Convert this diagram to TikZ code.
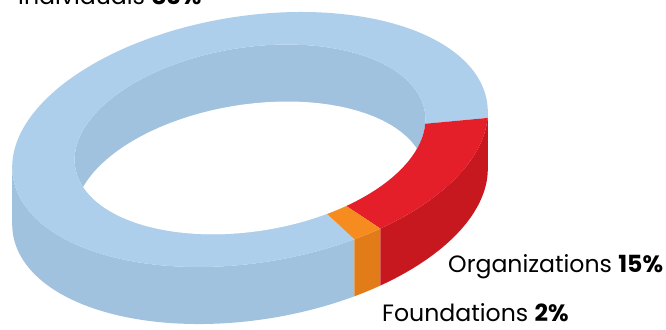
\documentclass[tikz,border=0pt]{standalone}
\usepackage{fontspec}
\setmainfont{Poppins}

\definecolor{blueTop}{RGB}{173,207,235}
\definecolor{blueSide}{RGB}{160,194,222}
\definecolor{redTop}{RGB}{228,31,42}
\definecolor{redSide}{RGB}{200,24,31}
\definecolor{orangeTop}{RGB}{246,139,31}
\definecolor{orangeSide}{RGB}{225,124,24}

\begin{document}
\begin{tikzpicture}[x=1pt, y=1pt,
    declare function={
        ox(\t)=250+240*cos(\t)*cos(9)-123.4*sin(\t)*sin(9);
        oy(\t)=189.5+240*cos(\t)*sin(9)+123.4*sin(\t)*cos(9);
        ix(\t)=250+177*cos(\t)*cos(9)-92*sin(\t)*sin(9);
        iy(\t)=189.5+177*cos(\t)*sin(9)+92*sin(\t)*cos(9);
    },
    lbl/.style={font=\fontsize{23.6}{26}\selectfont, text=black, inner sep=0pt, anchor=base west}]
        \clip (0,0) rectangle (666,329);
        % inner wall seen through the hole
        \fill[blueSide] plot[domain=0:360, samples=100] ({ix(\x)},{iy(\x)}) -- cycle;
        \begin{scope}
        \clip plot[domain=0:360, samples=100] ({ix(\x)},{iy(\x)}) -- cycle;
        \fill[white] plot[domain=0:360, samples=100] ({ix(\x)},{iy(\x)-57}) -- cycle;
        \end{scope}
        % outer walls
        \fill[blueSide] plot[domain=175.2:291.4, samples=60] ({ox(\x)},{oy(\x)}) -- plot[domain=291.4:175.2, samples=60] ({ox(\x)},{oy(\x)-57}) -- cycle;
        \fill[orangeSide] plot[domain=291.4:298.6, samples=6] ({ox(\x)},{oy(\x)}) -- plot[domain=298.6:291.4, samples=6] ({ox(\x)},{oy(\x)-57}) -- cycle;
        \fill[redSide] plot[domain=298.6:355.2, samples=30] ({ox(\x)},{oy(\x)}) -- plot[domain=355.2:298.6, samples=30] ({ox(\x)},{oy(\x)-57}) -- cycle;
        % top faces
        \fill[blueTop] plot[domain=-68.6:-367.4, samples=150] ({ox(\x)},{oy(\x)}) -- plot[domain=-367.4:-68.6, samples=150] ({ix(\x)},{iy(\x)}) -- cycle;
        \fill[redTop] plot[domain=-7.4:-61.4, samples=30] ({ox(\x)},{oy(\x)}) -- plot[domain=-61.4:-7.4, samples=30] ({ix(\x)},{iy(\x)}) -- cycle;
        \fill[orangeTop] plot[domain=-61.4:-68.6, samples=6] ({ox(\x)},{oy(\x)}) -- plot[domain=-68.6:-61.4, samples=6] ({ix(\x)},{iy(\x)}) -- cycle;
        % labels
        \node[lbl] (indiv) at (18,324) {Individuals \textbf{83\%}};
        \node[lbl] (orgs) at (448,56) {Organizations \textbf{15\%}};
        \node[lbl] (found) at (382,8) {Foundations \textbf{2\%}};
\end{tikzpicture}
\end{document}
